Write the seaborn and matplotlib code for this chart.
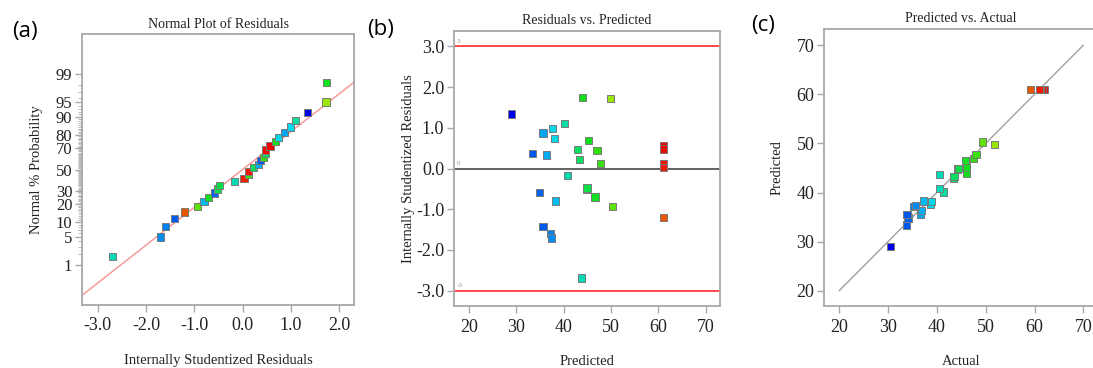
import numpy as np
import pandas as pd
import seaborn as sns
import matplotlib
matplotlib.use("Agg")
import matplotlib.pyplot as plt
from matplotlib.colors import LinearSegmentedColormap
from matplotlib.ticker import FixedLocator, FixedFormatter, FormatStrFormatter
from statistics import NormalDist

# ---------------- data ----------------
actual = [30.5, 33.8, 34.1, 36.6, 33.9, 36.8, 35.3, 35.6, 38.7, 38.9,
          37.3, 41.3, 40.5, 43.4, 43.5, 40.6, 46.0, 44.3, 46.0, 45.8,
          47.5, 48.0, 51.8, 49.3, 59.1, 62.1, 61.7, 61.3, 61.0, 44.4]
predicted = [29.0, 33.4, 34.8, 35.6, 35.6, 36.4, 37.2, 37.4, 37.6, 38.1,
             38.3, 40.1, 40.8, 42.9, 43.3, 43.7, 43.9, 44.8, 45.2, 46.6,
             47.0, 47.8, 49.8, 50.3, 61.0, 61.0, 61.0, 61.0, 61.0, 44.9]
residual = [1.34, 0.37, -0.59, 0.87, -1.42, 0.33, -1.60, -1.71, 0.99, 0.74,
            -0.80, 1.10, -0.17, 0.47, 0.23, -2.69, 1.74, -0.52, 0.68, -0.70,
            0.44, 0.12, 1.73, -0.94, -1.20, 0.57, 0.48, 0.13, 0.03, -0.48]
# normal % probability of the ranked residuals
normal_prob = [1.667, 5.0, 8.333, 11.667, 15.0, 18.333, 21.667, 25.0, 28.333, 31.667,
               35.0, 38.333, 41.667, 45.0, 48.333, 51.667, 55.0, 58.333, 61.667, 65.0,
               68.333, 71.667, 75.0, 78.333, 81.667, 85.0, 88.333, 91.667, 95.0, 98.333]

prob_major = [1, 5, 10, 20, 30, 50, 70, 80, 90, 95, 99]
prob_minor = [p for p in range(1, 100) if p not in prob_major]
resid_xticks = [-3.0, -2.0, -1.0, 0.0, 1.0, 2.0]
resid_yticks = [-3.0, -2.0, -1.0, 0.0, 1.0, 2.0, 3.0]
pred_ticks = [20, 30, 40, 50, 60, 70]
limit_lines = [3, 0, -3]
line_slope, line_intercept = 0.92, 0.0

df = pd.DataFrame({"actual": actual, "predicted": predicted, "residual": residual})
df_sorted = df.sort_values("residual").reset_index(drop=True)
df_sorted["prob"] = normal_prob

# ---------------- style ----------------
sns.set_theme(style="white")
SERIF = ["Liberation Serif", "DejaVu Serif"]
plt.rcParams["font.family"] = SERIF
plt.rcParams["font.serif"] = SERIF
plt.rcParams["axes.unicode_minus"] = False

cmap = LinearSegmentedColormap.from_list(
    "de", ["#0000e8", "#00d8f4", "#10e010", "#d8e800", "#f00000"])
hue_norm = (min(actual), max(actual))

spine_c = "#a8a8a8"
text_c = "#222222"
tick_fs = 13
lab_fs = 10.5
title_fs = 10

fig = plt.figure(figsize=(10.93, 3.68), dpi=100)
W, H = 1093.0, 368.0
def add_ax(x0, y0, x1, y1):
    return fig.add_axes([x0 / W, 1 - y1 / H, (x1 - x0) / W, (y1 - y0) / H])

axA = add_ax(82, 34, 354, 305)
axB = add_ax(454, 31, 720, 306)
axC = add_ax(824, 29, 1098, 306)

def style_ax(ax):
    for s in ax.spines.values():
        s.set_color(spine_c)
        s.set_linewidth(1.3)
    ax.tick_params(which="major", direction="out", length=5, width=1,
                   color=spine_c, labelsize=tick_fs, labelcolor=text_c, pad=2,
                   left=True, bottom=True, labelfontfamily=SERIF[0])
    ax.tick_params(axis="x", pad=4)

sc_kw = dict(hue="actual", palette=cmap, hue_norm=hue_norm, marker="s", s=27,
             edgecolor="#7a7a7a", linewidth=0.7, legend=False, zorder=3)

# ---------------- (a) normal plot ----------------
nd = NormalDist()
_ppf = np.vectorize(nd.inv_cdf, otypes=[float])
_cdf = np.vectorize(nd.cdf, otypes=[float])
def fwd(p):
    p = np.clip(np.asarray(p, dtype=float) / 100.0, 1e-12, 1 - 1e-12)
    return _ppf(p)
def inv(z):
    return _cdf(np.asarray(z, dtype=float)) * 100.0

axA.set_yscale("function", functions=(fwd, inv))
xl = np.array([-3.33, 2.31])
axA.plot(xl, inv(line_slope * xl + line_intercept), color="#f59a9a", lw=1.1, zorder=2)
sns.scatterplot(data=df_sorted, x="residual", y="prob", ax=axA, **sc_kw)
axA.set_xlim(-3.33, 2.31)
axA.set_ylim(inv(-3.3), inv(3.3))
axA.yaxis.set_major_locator(FixedLocator(prob_major))
axA.yaxis.set_major_formatter(FixedFormatter([str(p) for p in prob_major]))
axA.yaxis.set_minor_locator(FixedLocator(prob_minor))
axA.yaxis.set_minor_formatter(FixedFormatter([""] * len(prob_minor)))
axA.set_xticks(resid_xticks)
axA.xaxis.set_major_formatter(FormatStrFormatter("%.1f"))
style_ax(axA)
axA.tick_params(axis="y", which="major", labelsize=12)
axA.tick_params(axis="y", which="minor", direction="out", length=3, width=0.6,
                color="#b0b0b0", left=True)
axA.set_title("Normal Plot of Residuals", fontsize=title_fs, color=text_c, pad=4)
axA.set_xlabel("Internally Studentized Residuals", fontsize=lab_fs, color=text_c, labelpad=14)
axA.set_ylabel("Normal % Probability", fontsize=lab_fs, color=text_c, labelpad=9)

# ---------------- (b) residuals vs predicted ----------------
for v in limit_lines:
    axB.axhline(v, color="#ff2a2a" if v != 0 else "#555555", lw=1.2 if v != 0 else 1.3, zorder=2)
    axB.annotate(str(v), xy=(17.4, v), xytext=(0, 2), textcoords="offset points",
                 fontsize=5, color="#888888", va="bottom", ha="left")
sns.scatterplot(data=df, x="predicted", y="residual", ax=axB, **sc_kw)
axB.set_xlim(16.8, 73.0)
axB.set_ylim(-3.38, 3.38)
axB.set_xticks(pred_ticks)
axB.set_yticks(resid_yticks)
axB.yaxis.set_major_formatter(FormatStrFormatter("%.1f"))
style_ax(axB)
axB.set_title("Residuals vs. Predicted", fontsize=title_fs, color=text_c, pad=5)
axB.set_xlabel("Predicted", fontsize=lab_fs, color=text_c, labelpad=14)
axB.set_ylabel("Internally Studentized Residuals", fontsize=lab_fs, color=text_c, labelpad=1)

# ---------------- (c) predicted vs actual ----------------
axC.plot(pred_ticks[::len(pred_ticks) - 1], pred_ticks[::len(pred_ticks) - 1],
         color="#a0a0a0", lw=1.0, zorder=2)
sns.scatterplot(data=df, x="actual", y="predicted", ax=axC, **sc_kw)
axC.set_xlim(16.9, 73.0)
axC.set_ylim(16.9, 73.3)
axC.set_xticks(pred_ticks)
axC.set_yticks(pred_ticks)
style_ax(axC)
axC.spines["right"].set_visible(False)
axC.set_title("Predicted vs. Actual", fontsize=title_fs, color=text_c, pad=5)
axC.set_xlabel("Actual", fontsize=lab_fs, color=text_c, labelpad=14)
axC.set_ylabel("Predicted", fontsize=lab_fs, color=text_c, labelpad=9)

# ---------------- panel labels ----------------
for lab, x, y in [("(a)", 12, 31), ("(b)", 367, 30), ("(c)", 751, 25)]:
    fig.text(x / W, 1 - y / H, lab, fontsize=16, family=["Open Sans", "DejaVu Sans"],
             color="black", ha="left", va="center")

fig.savefig("out.png", dpi=100, facecolor="white")
